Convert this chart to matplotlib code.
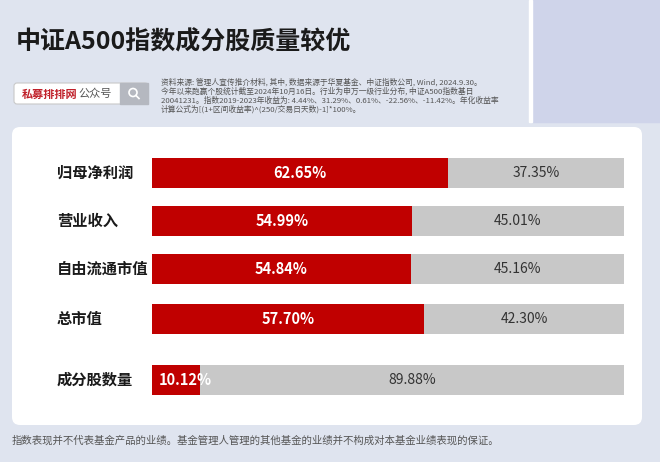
import matplotlib.pyplot as plt
from matplotlib.patches import FancyBboxPatch, Rectangle, Circle

plt.rcParams['font.family'] = ['Noto Sans CJK SC', 'DejaVu Sans']

# data
categories = ['归母净利润', '营业收入', '自由流通市值', '总市值', '成分股数量']
red_share = [62.65, 54.99, 54.84, 57.70, 10.12]
grey_share = [37.35, 45.01, 45.16, 42.30, 89.88]
title = '中证A500指数成分股质量较优'
source = ('资料来源: 管理人宣传推介材料, 其中, 数据来源于华夏基金、中证指数公司, Wind, 2024.9.30。\n'
          '今年以来跑赢个股统计截至2024年10月16日。行业为申万一级行业分布, 中证A500指数基日\n'
          '20041231。指数2019-2023年收益为: 4.44%、31.29%、0.61%、-22.56%、-11.42%。年化收益率\n'
          '计算公式为[(1+区间收益率)^(250/交易日天数)-1]*100%。')
footer = '指数表现并不代表基金产品的业绩。基金管理人管理的其他基金的业绩并不构成对本基金业绩表现的保证。'

fig = plt.figure(figsize=(6.6, 4.62), dpi=100)
fig.patch.set_facecolor('#dfe4ef')
ax = fig.add_axes([0, 0, 1, 1])
ax.set_xlim(0, 660)
ax.set_ylim(462, 0)
ax.axis('off')

# top right block
ax.add_patch(Rectangle((532, 0), 128, 122, color='#cfd4ea', zorder=1))
ax.add_patch(Rectangle((529, 0), 3, 122, color='white', zorder=1))

ax.text(16, 42, title, fontsize=18, fontweight='bold', color='#1a1a1a', va='center')

# search box
ax.add_patch(FancyBboxPatch((14, 83), 134, 21, boxstyle='round,pad=0,rounding_size=3',
                            fc='white', ec='#c9c9c9', lw=0.8, zorder=2))
ax.add_patch(Rectangle((120, 83), 28, 21, color='#b5b8c0', zorder=3))
ax.text(22, 94, '私募排排网', color='#c0202a', fontsize=8, fontweight='bold', va='center', zorder=4)
ax.text(78, 94, '公众号', color='#555555', fontsize=8, va='center', zorder=4)
# magnifier icon
ax.add_patch(Circle((133, 92.5), 4, fc='none', ec='white', lw=1.2, zorder=4))
ax.plot([136, 139], [95.5, 98.5], color='white', lw=1.2, zorder=4)
ax.text(161, 96, source, fontsize=5.6, color='#555555', va='center', linespacing=1.1)

# white panel
ax.add_patch(FancyBboxPatch((12, 127), 630, 298, boxstyle='round,pad=0,rounding_size=8',
                            fc='white', ec='none', zorder=1))

ys = [173, 221, 269, 319, 380]
x0, full, h = 152, 472, 30
for y, cat, r, g in zip(ys, categories, red_share, grey_share):
    ax.text(57, y, cat, fontsize=11, fontweight='bold', color='#1a1a1a', va='center', zorder=3)
    rw = r / 100 * full
    ax.barh(y, rw, left=x0, height=h, color='#c00000', zorder=2)
    ax.barh(y, g / 100 * full, left=x0 + rw, height=h, color='#c8c8c8', zorder=2)
    if r > 20:
        ax.text(x0 + rw / 2, y, f'{r:.2f}%', color='white', fontsize=10.5, fontweight='bold',
                ha='center', va='center', zorder=3)
    else:
        ax.text(x0 + 33, y, f'{r:.2f}%', color='white', fontsize=10.5, fontweight='bold',
                ha='center', va='center', zorder=3)
    ax.text(x0 + rw + g / 100 * full / 2, y, f'{g:.2f}%', color='#333333', fontsize=10,
            ha='center', va='center', zorder=3)

ax.text(12, 441, footer, fontsize=7.5, color='#555555', va='center')

fig.savefig('out.png', dpi=100, facecolor=fig.get_facecolor())
